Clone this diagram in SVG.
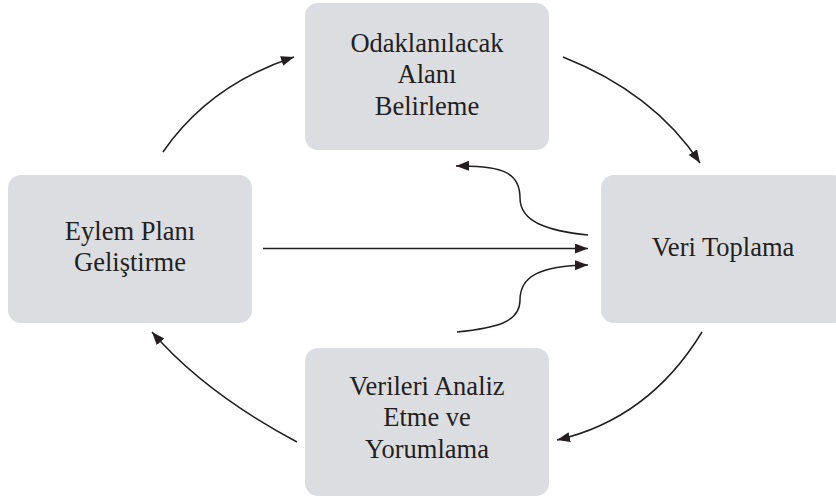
<svg xmlns="http://www.w3.org/2000/svg" width="836" height="499" viewBox="0 0 836 499">
  <style>
    .box { fill: #dcdde0; }
    .lbl { font-family: "Liberation Serif", "Times New Roman", serif; font-size: 26.5px; fill: #231f20; text-anchor: middle; }
    .con { fill: none; stroke: #231f20; stroke-width: 1.5; marker-end: url(#ah); }
  </style>
  <defs>
    <marker id="ah" markerUnits="userSpaceOnUse" markerWidth="14" markerHeight="11" refX="13" refY="5" orient="auto">
      <path d="M0,0 L13,5 L0,10 z" fill="#231f20"/>
    </marker>
  </defs>
  <rect width="836" height="499" fill="#ffffff"/>
  <g id="n-odak">
    <rect class="box" x="305" y="3" width="244" height="147" rx="13"/>
    <text class="lbl" x="427" y="52">Odaklanılacak</text>
    <text class="lbl" x="427" y="83">Alanı</text>
    <text class="lbl" x="427" y="115">Belirleme</text>
  </g>
  <g id="n-eylem">
    <rect class="box" x="8" y="175" width="244" height="148" rx="13"/>
    <text class="lbl" x="130" y="240">Eylem Planı</text>
    <text class="lbl" x="130" y="271">Geliştirme</text>
  </g>
  <g id="n-veri">
    <rect class="box" x="601" y="175" width="244" height="148" rx="13"/>
    <text class="lbl" x="723" y="256">Veri Toplama</text>
  </g>
  <g id="n-analiz">
    <rect class="box" x="305" y="348" width="244" height="148" rx="13"/>
    <text class="lbl" x="427" y="395">Verileri Analiz</text>
    <text class="lbl" x="427" y="426">Etme ve</text>
    <text class="lbl" x="427" y="458">Yorumlama</text>
  </g>
  <g id="connectors">
    <path class="con" d="M163,152 Q209,85 294,57"/>
    <path class="con" d="M563,57 Q654,93 700,163"/>
    <path class="con" d="M702,332 Q649,419 557,440"/>
    <path class="con" d="M297,442 Q205,393 152,332"/>
    <path class="con" d="M263,248.5 L588,248.5"/>
    <path class="con" d="M588,235 C548,231 520,222 520,198 C520,174 505,165 456,166"/>
    <path class="con" d="M457,332 C497,328 520,322 520,300 C520,276 540,266 588,265"/>
  </g>
</svg>
